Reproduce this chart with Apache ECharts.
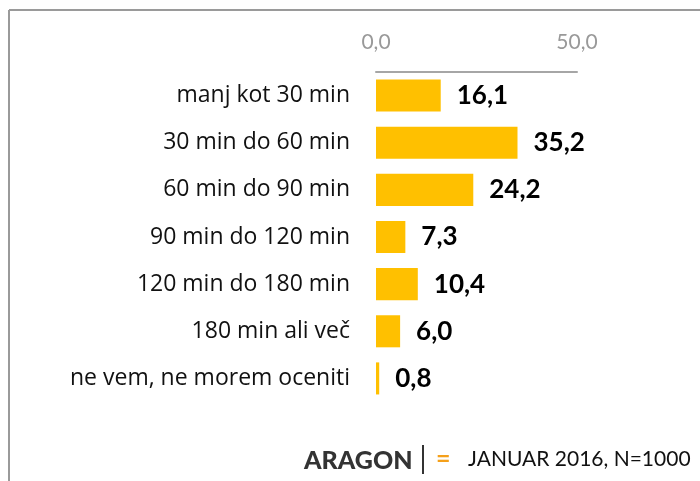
<!DOCTYPE html>
<html>
<head>
<meta charset="utf-8">
<script src="https://cdn.jsdelivr.net/npm/echarts@6/dist/echarts.min.js"></script>
<style>
  html, body { margin: 0; padding: 0; background: #fff; }
  #chart { width: 700px; height: 481px; }
</style>
</head>
<body>
<div id="chart"></div>
<script>
// kategorije in vrednosti (%)
var categories = [
  "manj kot 30 min",
  "30 min do 60 min",
  "60 min do 90 min",
  "90 min do 120 min",
  "120 min do 180 min",
  "180 min ali več",
  "ne vem, ne morem oceniti"
];
var values = [16.1, 35.2, 24.2, 7.3, 10.4, 6.0, 0.8];
var axisTicks = [0, 50];

var chart = echarts.init(document.getElementById("chart"));
var fmt = function (v) { return v.toFixed(1).replace(".", ","); };

chart.setOption({
  animation: false,
  grid: { left: 376, right: 123, top: 72, bottom: 79 },
  xAxis: {
    type: "value",
    position: "top",
    min: axisTicks[0],
    max: axisTicks[1],
    interval: 50,
    axisLine: { show: true, lineStyle: { color: "#a6a6a6", width: 2 } },
    axisTick: { show: false },
    splitLine: { show: false },
    axisLabel: {
      margin: 19,
      color: "#999999",
      fontSize: 21,
      fontFamily: "Lato",
      formatter: fmt
    }
  },
  yAxis: {
    type: "category",
    inverse: true,
    data: categories,
    axisLine: { show: false },
    axisTick: { show: false },
    axisLabel: {
      margin: 26,
      color: "#111111",
      fontSize: 23,
      fontFamily: "Open Sans"
    }
  },
  series: [{
    type: "bar",
    data: values,
    barWidth: "68%",
    itemStyle: { color: "#FFC000" },
    label: {
      show: true,
      position: "right",
      distance: 16,
      color: "#000",
      fontSize: 26,
      fontWeight: "bold",
      fontFamily: "Lato",
      formatter: function (p) { return fmt(p.value); }
    }
  }],
  graphic: [
    { type: "line", shape: { x1: 9, y1: 10, x2: 700, y2: 10 }, style: { stroke: "#9a9a9a", lineWidth: 2 } },
    { type: "line", shape: { x1: 9, y1: 10, x2: 9, y2: 481 }, style: { stroke: "#9a9a9a", lineWidth: 2 } },
    { type: "text", left: 304, top: 448, style: { text: "ARAGON", font: "900 25px Lato", fill: "#333333" } },
    { type: "line", shape: { x1: 423, y1: 445, x2: 423, y2: 474 }, style: { stroke: "#333333", lineWidth: 2 } },
    { type: "text", left: 436, top: 446, style: { text: "=", font: "bold 25px Lato", fill: "#F5A01A" } },
    { type: "text", left: 468, top: 449, style: { text: "JANUAR 2016, N=1000", font: "21px Lato", fill: "#111111" } }
  ]
});
</script>
</body>
</html>
